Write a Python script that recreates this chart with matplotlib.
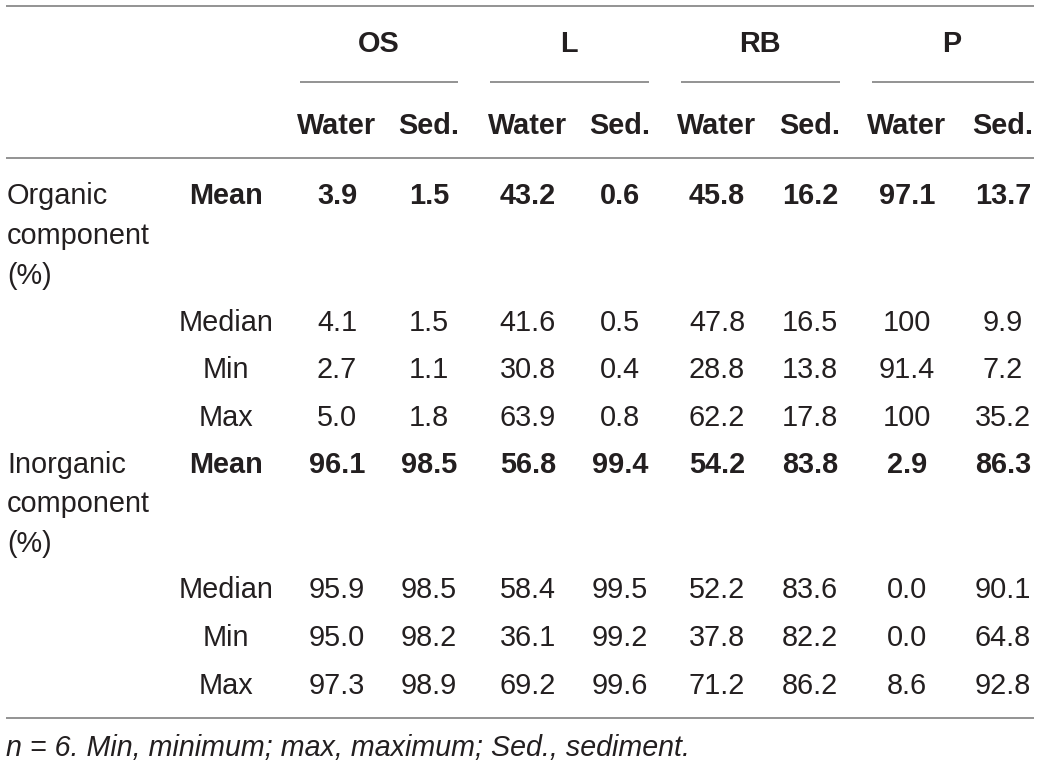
import matplotlib
matplotlib.use("Agg")
import matplotlib.pyplot as plt

# table content
groups = ["OS", "L", "RB", "P"]
subcols = ["Water", "Sed."]
blocks = ["Organic\ncomponent\n(%)", "Inorganic\ncomponent\n(%)"]
stats = ["Mean", "Median", "Min", "Max"]

organic = [
    ["3.9", "1.5", "43.2", "0.6", "45.8", "16.2", "97.1", "13.7"],
    ["4.1", "1.5", "41.6", "0.5", "47.8", "16.5", "100", "9.9"],
    ["2.7", "1.1", "30.8", "0.4", "28.8", "13.8", "91.4", "7.2"],
    ["5.0", "1.8", "63.9", "0.8", "62.2", "17.8", "100", "35.2"],
]
inorganic = [
    ["96.1", "98.5", "56.8", "99.4", "54.2", "83.8", "2.9", "86.3"],
    ["95.9", "98.5", "58.4", "99.5", "52.2", "83.6", "0.0", "90.1"],
    ["95.0", "98.2", "36.1", "99.2", "37.8", "82.2", "0.0", "64.8"],
    ["97.3", "98.9", "69.2", "99.6", "71.2", "86.2", "8.6", "92.8"],
]
footnote = "n = 6. Min, minimum; max, maximum; Sed., sediment."

TXT = "#231f20"
RULE = "#8a8a8a"
FS = 20.8
BASE = 10.5  # baseline offset from row centre (px)

fig = plt.figure(figsize=(10.4, 7.65), dpi=100)
ax = fig.add_axes([0, 0, 1, 1])
ax.set_xlim(0, 1040)
ax.set_ylim(765, 0)
ax.axis("off")
plt.rcParams["font.family"] = ["Liberation Sans", "DejaVu Sans"]

col_x = [337, 429, 528, 620, 717, 810, 907, 1003]
group_x = [379, 569, 760, 952]
group_rule = [(300, 458), (490, 649), (681, 840), (872, 1034)]
stat_x = 226


def cell(x, y, s, ha="center", **kw):
    ax.text(x, y + BASE, s, ha=ha, va="baseline", fontsize=FS, color=TXT, **kw)


# rules
for y in (6, 158, 718):
    ax.plot([6, 1034], [y, y], color=RULE, lw=1.3, solid_capstyle="butt")
for x0, x1 in group_rule:
    ax.plot([x0, x1], [82, 82], color=RULE, lw=1.3, solid_capstyle="butt")

# headers
for g, x in zip(groups, group_x):
    cell(x, 41, g, fontweight="bold")
for i, x in enumerate(col_x):
    cell(x, 123, subcols[i % 2], fontweight="bold")

# body
row_y = [[193, 320, 367, 415], [462, 588, 636, 683]]
for b, (label, data) in enumerate(zip(blocks, [organic, inorganic])):
    for k, line in enumerate(label.split("\n")):
        cell(7, row_y[b][0] + 40 * k, line, ha="left")
    for r, stat in enumerate(stats):
        y = row_y[b][r]
        w = "bold" if r == 0 else "normal"
        cell(stat_x, y, stat, fontweight=w)
        for x, v in zip(col_x, data[r]):
            cell(x, y, v, fontweight=w)

ax.text(6, 745 + BASE, footnote, ha="left", va="baseline", fontsize=20.6,
        style="italic", color=TXT)

fig.savefig("out.png", dpi=100)
